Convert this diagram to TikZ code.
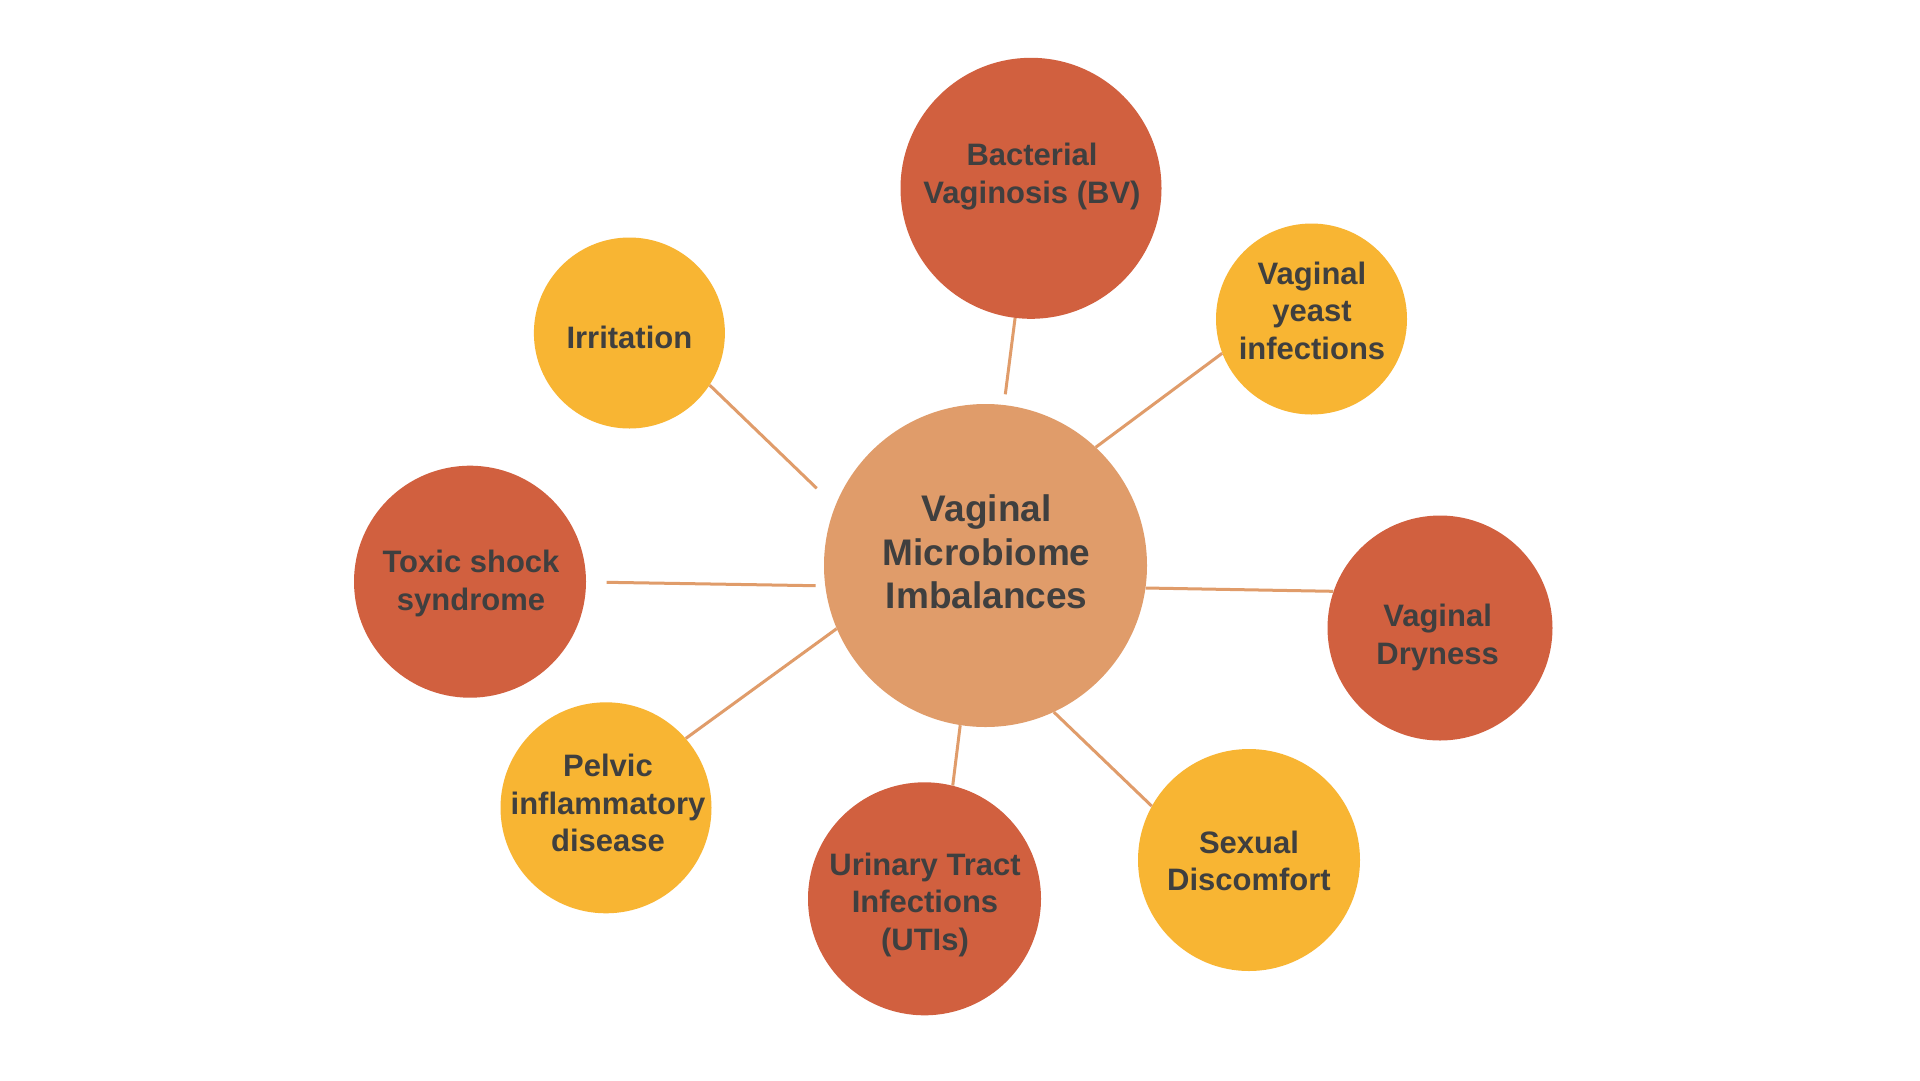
\documentclass[tikz,border=0pt]{standalone}
\usepackage{fontspec}
\setmainfont{Liberation Sans}
\definecolor{hubc}{HTML}{E09C6A}
\definecolor{redc}{HTML}{D1603F}
\definecolor{yelc}{HTML}{F8B533}
\definecolor{txtc}{HTML}{3F3F3F}
\begin{document}
\begin{tikzpicture}[x=1pt,y=-1pt,
  bubble/.style={circle,inner sep=0pt,draw=none},
  hubb/.style={bubble,fill=hubc},
  redb/.style={bubble,fill=redc},
  yelb/.style={bubble,fill=yelc},
  lbl/.style={text=txtc,align=center,anchor=base,inner sep=0pt,font={\bfseries\fontsize{31}{37.5}\selectfont}},
  hublbl/.style={lbl,font={\bfseries\fontsize{37}{43.3}\selectfont}},
  link/.style={draw=hubc,line width=3pt}]
\useasboundingbox (0,0) rectangle (1920,1080);
\fill[white] (0,0) rectangle (1920,1080);

% circles
\node[hubb,minimum size=323pt] (C) at (985.5,565.5) {};
\node[redb,minimum size=261pt] (B) at (1031,188.3) {};
\node[yelb,minimum size=191pt] (Y) at (1311.5,319) {};
\node[yelb,minimum size=191pt] (I) at (629.4,333) {};
\node[redb,minimum size=232pt] (T) at (470,581.7) {};
\node[redb,minimum size=225pt] (D) at (1440,628) {};
\node[yelb,minimum size=211pt] (P) at (606,807.8) {};
\node[redb,minimum size=233pt] (U) at (924.5,898.8) {};
\node[yelb,minimum size=222pt] (S) at (1249,860) {};

% free line ends
\coordinate (irrEnd) at (816.7,488.3);
\coordinate (bvEnd) at (1005.3,394.3);
\coordinate (toxStart) at (606.7,582.3);
\coordinate (toxEnd) at (815.7,585.7);

% connectors
\draw[link] (I.-33.9) -- (irrEnd);
\draw[link] (B.263.3) -- (bvEnd);
\draw[link] (C.47.7) -- (Y.201.6);
\draw[link] (toxStart) -- (toxEnd);
\draw[link] (C.-8.9) -- (D.161.9);
\draw[link] (C.203.4) -- (P.41.7);
\draw[link] (C.-99.1) -- (U.76.6);
\draw[link] (C.-65.4) -- (S.151.9);

% labels (anchor=base is the baseline of the last line)
\node[hublbl] (Ct) at (986.7,608.3) {Vaginal\\Microbiome\\Imbalances};
\node[lbl] (Bt) at (1032,203.3) {Bacterial\\Vaginosis (BV)};
\node[lbl] (Yt) at (1312,359) {Vaginal\\yeast\\infections};
\node[lbl] (It) at (629.4,348) {Irritation};
\node[lbl] (Tt) at (471,610) {Toxic shock\\syndrome};
\node[lbl] (Dt) at (1437.6,664) {Vaginal\\Dryness};
\node[lbl] (Pt) at (608,851.7) {Pelvic\\inflammatory\\disease};
\node[lbl] (Ut) at (925,950) {Urinary Tract\\Infections\\(UTIs)};
\node[lbl] (St) at (1249,890.5) {Sexual\\Discomfort};
\end{tikzpicture}
\end{document}
